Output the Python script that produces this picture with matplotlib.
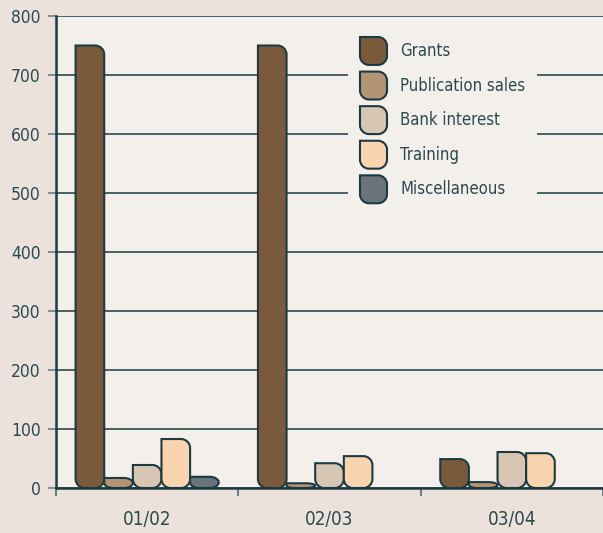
import matplotlib
matplotlib.use("Agg")
import matplotlib.pyplot as plt
import numpy as np
from matplotlib.path import Path
from matplotlib.patches import PathPatch, Rectangle
from matplotlib.legend_handler import HandlerPatch

plt.rcParams["font.family"] = ["DejaVu Sans"]
plt.rcParams["font.stretch"] = "condensed"

years = ["01/02", "02/03", "03/04"]
series = ["Grants", "Publication sales", "Bank interest", "Training", "Miscellaneous"]
grants = [750, 750, 49]
publication_sales = [17, 8, 10]
bank_interest = [39, 42, 61]
training = [83, 54, 59]
miscellaneous = [19, 0, 0]

colors = ["#7b5a3c", "#b39474", "#d6c6b3", "#fad4ae", "#6b737b"]
edge = "#1d3a42"
text_col = "#2e4850"
fig_bg = "#ebe3db"
ax_bg = "#f3f0eb"


def leaf_path(x0, y0, w, h, rx, ry):
    # rectangle with square top-left corner and the other three rounded
    ry = min(ry, h / 2)
    rx = min(rx, w / 2)
    k = 0.5523
    x1, y1 = x0 + w, y0 + h
    verts = [
        (x0 + rx, y0),
        (x1 - rx, y0),
        (x1 - rx + k * rx, y0), (x1, y0 + ry - k * ry), (x1, y0 + ry),
        (x1, y1 - ry),
        (x1, y1 - ry + k * ry), (x1 - rx + k * rx, y1), (x1 - rx, y1),
        (x0, y1),
        (x0, y0 + ry),
        (x0, y0 + ry - k * ry), (x0 + rx - k * rx, y0), (x0 + rx, y0),
        (x0 + rx, y0),
    ]
    codes = [Path.MOVETO, Path.LINETO,
             Path.CURVE4, Path.CURVE4, Path.CURVE4,
             Path.LINETO,
             Path.CURVE4, Path.CURVE4, Path.CURVE4,
             Path.LINETO, Path.LINETO,
             Path.CURVE4, Path.CURVE4, Path.CURVE4,
             Path.CLOSEPOLY]
    return Path(verts, codes)


class LeafHandler(HandlerPatch):
    def create_artists(self, legend, orig_handle, xdescent, ydescent,
                       width, height, fontsize, trans):
        r = 0.33 * width
        p = PathPatch(leaf_path(-xdescent, -ydescent, width, height, r, r),
                      facecolor=orig_handle.get_facecolor(),
                      edgecolor=edge, lw=1.5, transform=trans)
        return [p]


fig = plt.figure(figsize=(6.03, 5.33), dpi=100, facecolor=fig_bg)
ax = fig.add_axes([56 / 603, 45 / 533, 547 / 603, 472 / 533], facecolor=ax_bg)

ax.set_xlim(-0.5, 2.5)
ax.set_ylim(0, 800)

values = [grants, publication_sales, bank_interest, training, miscellaneous]
x = np.arange(len(years))
w = 0.157

# radius in data units for a ~9 px corner
px_x = ax.transData.transform((1, 0))[0] - ax.transData.transform((0, 0))[0]
px_y = ax.transData.transform((0, 1))[1] - ax.transData.transform((0, 0))[1]
rx, ry = 9 / px_x, 9 / px_y

for i, (name, vals) in enumerate(zip(series, values)):
    bars = ax.bar(x + (i - 2) * w, vals, width=w, color=colors[i], visible=False)
    for b in bars:
        if b.get_height() <= 0:
            continue
        ax.add_patch(PathPatch(
            leaf_path(b.get_x(), b.get_y(), b.get_width(), b.get_height(), rx, ry),
            facecolor=colors[i], edgecolor=edge, lw=1.5, zorder=3))

ax.set_yticks(np.arange(0, 801, 100))
ax.yaxis.grid(True, color=edge, lw=1.1)
ax.set_axisbelow(True)
ax.set_xticks([-0.5, 0.5, 1.5, 2.5])
ax.set_xticklabels([])
ax.set_xticks(x, minor=True)
ax.set_xticklabels(years, minor=True)
ax.tick_params(axis="x", which="minor", length=0, pad=16, labelsize=13.5, labelcolor=text_col)
ax.tick_params(axis="x", which="major", length=6, color="#6f7f84", width=1.5)
ax.tick_params(axis="y", length=6, color="#6f7f84", width=1.2, labelsize=12.5,
               labelcolor=text_col, pad=5)

for s in ["top", "right"]:
    ax.spines[s].set_visible(False)
for s in ["left", "bottom"]:
    ax.spines[s].set_color(edge)
    ax.spines[s].set_linewidth(1.8)
ax.spines["bottom"].set_zorder(4)

# plain panel behind the legend that hides the grid lines
ax.add_patch(Rectangle((348 / 603, 1 - 210 / 533), 189 / 603, 182 / 533,
                       transform=fig.transFigure, facecolor=ax_bg,
                       edgecolor="none", zorder=2))

handles = [Rectangle((0, 0), 1, 1, facecolor=c) for c in colors]
leg = ax.legend(handles, series, loc="upper left",
                bbox_to_anchor=(352 / 603, 1 - 29 / 533), bbox_transform=fig.transFigure,
                handler_map={Rectangle: LeafHandler()},
                frameon=False, fontsize=12, handlelength=1.62, handleheight=2.2,
                labelspacing=0.4, handletextpad=0.8, borderpad=0.48,
                borderaxespad=0)
for t in leg.get_texts():
    t.set_color(text_col)
leg.set_zorder(5)

fig.savefig("out.png", dpi=100, facecolor=fig_bg)
